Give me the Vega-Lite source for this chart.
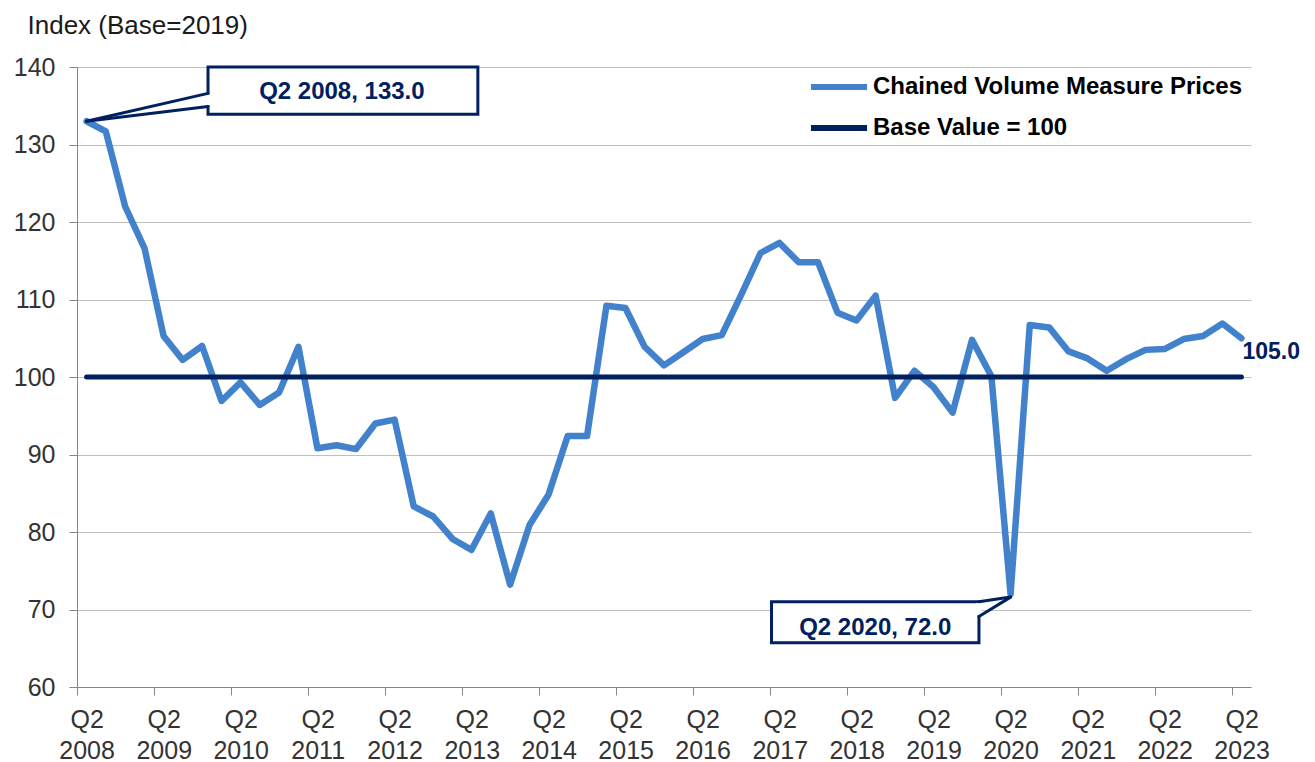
{
  "$schema": "https://vega.github.io/schema/vega-lite/v6.json",
  "width": 1174,
  "height": 620,
  "autosize": {"type": "none"},
  "padding": {"left": 77, "top": 67, "right": 64, "bottom": 75},
  "background": "white",
  "config": {"view": {"stroke": null}, "font": "Liberation Sans"},
  "datasets": {
    "main": [
      {"date": "2008-04-01", "cvm": 133.0}, {"date": "2008-07-01", "cvm": 131.7}, {"date": "2008-10-01", "cvm": 122.0}, {"date": "2009-01-01", "cvm": 116.6},
      {"date": "2009-04-01", "cvm": 105.3}, {"date": "2009-07-01", "cvm": 102.2}, {"date": "2009-10-01", "cvm": 104.0}, {"date": "2010-01-01", "cvm": 96.9},
      {"date": "2010-04-01", "cvm": 99.3}, {"date": "2010-07-01", "cvm": 96.4}, {"date": "2010-10-01", "cvm": 98.0}, {"date": "2011-01-01", "cvm": 103.9},
      {"date": "2011-04-01", "cvm": 90.8}, {"date": "2011-07-01", "cvm": 91.2}, {"date": "2011-10-01", "cvm": 90.7}, {"date": "2012-01-01", "cvm": 94.0},
      {"date": "2012-04-01", "cvm": 94.5}, {"date": "2012-07-01", "cvm": 83.3}, {"date": "2012-10-01", "cvm": 82.0}, {"date": "2013-01-01", "cvm": 79.1},
      {"date": "2013-04-01", "cvm": 77.7}, {"date": "2013-07-01", "cvm": 82.4}, {"date": "2013-10-01", "cvm": 73.2}, {"date": "2014-01-01", "cvm": 80.9},
      {"date": "2014-04-01", "cvm": 84.8}, {"date": "2014-07-01", "cvm": 92.4}, {"date": "2014-10-01", "cvm": 92.4}, {"date": "2015-01-01", "cvm": 109.2},
      {"date": "2015-04-01", "cvm": 108.9}, {"date": "2015-07-01", "cvm": 103.9}, {"date": "2015-10-01", "cvm": 101.5}, {"date": "2016-01-01", "cvm": 103.2},
      {"date": "2016-04-01", "cvm": 104.9}, {"date": "2016-07-01", "cvm": 105.4}, {"date": "2016-10-01", "cvm": 110.6}, {"date": "2017-01-01", "cvm": 116.0},
      {"date": "2017-04-01", "cvm": 117.3}, {"date": "2017-07-01", "cvm": 114.8}, {"date": "2017-10-01", "cvm": 114.8}, {"date": "2018-01-01", "cvm": 108.3},
      {"date": "2018-04-01", "cvm": 107.3}, {"date": "2018-07-01", "cvm": 110.5}, {"date": "2018-10-01", "cvm": 97.3}, {"date": "2019-01-01", "cvm": 100.8},
      {"date": "2019-04-01", "cvm": 98.7}, {"date": "2019-07-01", "cvm": 95.4}, {"date": "2019-10-01", "cvm": 104.8}, {"date": "2020-01-01", "cvm": 100.1},
      {"date": "2020-04-01", "cvm": 72.0}, {"date": "2020-07-01", "cvm": 106.7}, {"date": "2020-10-01", "cvm": 106.4}, {"date": "2021-01-01", "cvm": 103.3},
      {"date": "2021-04-01", "cvm": 102.4}, {"date": "2021-07-01", "cvm": 100.8}, {"date": "2021-10-01", "cvm": 102.3}, {"date": "2022-01-01", "cvm": 103.5},
      {"date": "2022-04-01", "cvm": 103.6}, {"date": "2022-07-01", "cvm": 104.9}, {"date": "2022-10-01", "cvm": 105.3}, {"date": "2023-01-01", "cvm": 106.9},
      {"date": "2023-04-01", "cvm": 105.0}
    ],
    "base": [{"start": "2008-04-01", "end": "2023-04-01", "value": 100}],
    "boxes": [
      {"x1": "2009-10-29", "x2": "2013-05-01", "y1": 133.9, "y2": 140.0, "tx": "2011-07-26", "ty": 136.8, "label": "Q2 2008, 133.0"},
      {"x1": "2017-02-22", "x2": "2019-11-03", "y1": 65.7, "y2": 71.0, "tx": "2018-06-29", "ty": 67.6, "label": "Q2 2020, 72.0"}
    ],
    "gaps": [
      {"x": "2009-10-29", "y1": 136.45, "y2": 135.05},
      {"x": "2019-11-03", "y1": 70.85, "y2": 69.25}
    ],
    "pointers": [
      {"bx": "2009-10-29", "by": 136.6, "px": "2008-04-01", "py": 133.0},
      {"bx": "2009-10-29", "by": 134.9, "px": "2008-04-01", "py": 133.0},
      {"bx": "2019-11-03", "by": 71.0, "px": "2020-04-01", "py": 71.6},
      {"bx": "2019-11-03", "by": 69.1, "px": "2020-04-01", "py": 71.6}
    ],
    "last": [{"date": "2023-04-01", "cvm": 105.0}]
  },
  "layer": [
    {
      "data": {"name": "main"},
      "mark": {"type": "line", "strokeWidth": 6.5, "strokeCap": "round", "strokeJoin": "round"},
      "encoding": {
        "x": {
          "field": "date", "type": "temporal", "title": null,
          "scale": {"type": "utc", "domain": [{"year": 2008, "month": 2, "date": 15, "hours": 12, "utc": true}, {"year": 2023, "month": 5, "date": 16, "hours": 12, "utc": true}]},
          "axis": {
            "values": [
              {"year": 2008, "month": 2, "date": 15, "hours": 12, "utc": true}, {"year": 2009, "month": 2, "date": 15, "hours": 12, "utc": true},
              {"year": 2010, "month": 2, "date": 15, "hours": 12, "utc": true}, {"year": 2011, "month": 2, "date": 15, "hours": 12, "utc": true},
              {"year": 2012, "month": 2, "date": 15, "hours": 12, "utc": true}, {"year": 2013, "month": 2, "date": 15, "hours": 12, "utc": true},
              {"year": 2014, "month": 2, "date": 15, "hours": 12, "utc": true}, {"year": 2015, "month": 2, "date": 15, "hours": 12, "utc": true},
              {"year": 2016, "month": 2, "date": 15, "hours": 12, "utc": true}, {"year": 2017, "month": 2, "date": 15, "hours": 12, "utc": true},
              {"year": 2018, "month": 2, "date": 15, "hours": 12, "utc": true}, {"year": 2019, "month": 2, "date": 15, "hours": 12, "utc": true},
              {"year": 2020, "month": 2, "date": 15, "hours": 12, "utc": true}, {"year": 2021, "month": 2, "date": 15, "hours": 12, "utc": true},
              {"year": 2022, "month": 2, "date": 15, "hours": 12, "utc": true}, {"year": 2023, "month": 2, "date": 15, "hours": 12, "utc": true}
            ],
            "labelExpr": "['Q2', utcFormat(datum.value, '%Y')]",
            "grid": false,
            "domainColor": "#868686",
            "tickColor": "#868686",
            "tickSize": 8,
            "labelFontSize": 25,
            "labelColor": "#333333",
            "labelPadding": 12,
            "labelLineHeight": 31,
            "labelOffset": 9.62,
            "labelOverlap": false,
            "labelBound": false,
            "labelFlush": false,
            "labelAlign": "center",
            "labelBaseline": "top"
          }
        },
        "y": {
          "field": "cvm", "type": "quantitative", "title": "Index (Base=2019)",
          "scale": {"domain": [60, 140], "nice": false, "zero": false},
          "axis": {
            "values": [60, 70, 80, 90, 100, 110, 120, 130, 140],
            "grid": true,
            "gridColor": "#BFBFBF",
            "gridWidth": 1,
            "domainColor": "#868686",
            "tickColor": "#868686",
            "tickSize": 8,
            "labelFontSize": 25,
            "labelColor": "#333333",
            "labelPadding": 14,
            "title": "Index (Base=2019)",
            "titleAngle": 0,
            "titleX": -50,
            "titleY": -34,
            "titleAlign": "left",
            "titleBaseline": "alphabetic",
            "titleFontSize": 26,
            "titleFontWeight": "normal",
            "titleColor": "#1a1a1a"
          }
        },
        "color": {
          "datum": "Chained Volume Measure Prices",
          "scale": {"domain": ["Chained Volume Measure Prices", "Base Value = 100"], "range": ["#4281CB", "#002060"]},
          "legend": {
            "title": null,
            "orient": "none",
            "legendX": 744,
            "legendY": 2,
            "padding": 0,
            "symbolType": "M-1.87,0H1.87",
            "symbolSize": 900,
            "symbolStrokeWidth": 6,
            "labelFontSize": 24,
            "labelFontWeight": "bold",
            "labelColor": "#000000",
            "labelOffset": 16,
            "rowPadding": 11,
            "labelLimit": 0
          }
        }
      }
    },
    {
      "data": {"name": "base"},
      "mark": {"type": "rule", "strokeWidth": 5, "strokeCap": "round"},
      "encoding": {
        "x": {"field": "start", "type": "temporal"},
        "x2": {"field": "end"},
        "y": {"field": "value", "type": "quantitative", "title": "Index (Base=2019)"},
        "color": {"datum": "Base Value = 100"}
      }
    },
    {
      "data": {"name": "boxes"},
      "mark": {"type": "rect", "fill": "white", "stroke": "#002060", "strokeWidth": 3},
      "encoding": {
        "x": {"field": "x1", "type": "temporal"},
        "x2": {"field": "x2"},
        "y": {"field": "y1", "type": "quantitative", "title": "Index (Base=2019)"},
        "y2": {"field": "y2"}
      }
    },
    {
      "data": {"name": "gaps"},
      "mark": {"type": "rule", "stroke": "white", "strokeWidth": 5},
      "encoding": {
        "x": {"field": "x", "type": "temporal"},
        "y": {"field": "y1", "type": "quantitative", "title": "Index (Base=2019)"},
        "y2": {"field": "y2"}
      }
    },
    {
      "data": {"name": "pointers"},
      "mark": {"type": "rule", "stroke": "#002060", "strokeWidth": 3, "strokeCap": "round"},
      "encoding": {
        "x": {"field": "bx", "type": "temporal"},
        "y": {"field": "by", "type": "quantitative", "title": "Index (Base=2019)"},
        "x2": {"field": "px"},
        "y2": {"field": "py"}
      }
    },
    {
      "data": {"name": "boxes"},
      "mark": {"type": "text", "font": "Liberation Sans", "fontSize": 24, "fontWeight": "bold", "color": "#002060", "align": "center", "baseline": "middle"},
      "encoding": {
        "x": {"field": "tx", "type": "temporal"},
        "y": {"field": "ty", "type": "quantitative", "title": "Index (Base=2019)"},
        "text": {"field": "label"}
      }
    },
    {
      "data": {"name": "last"},
      "mark": {"type": "text", "font": "Liberation Sans", "fontSize": 23, "fontWeight": "bold", "color": "#002060", "align": "left", "baseline": "alphabetic", "dx": 1, "dy": 21},
      "encoding": {
        "x": {"field": "date", "type": "temporal"},
        "y": {"field": "cvm", "type": "quantitative", "title": "Index (Base=2019)"},
        "text": {"field": "cvm", "format": ".1f"}
      }
    }
  ]
}
